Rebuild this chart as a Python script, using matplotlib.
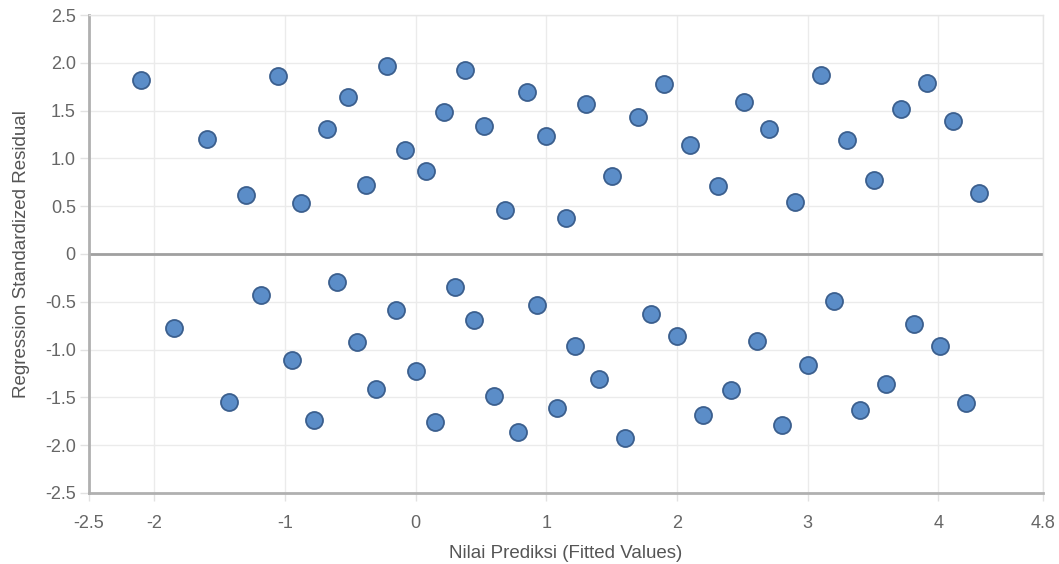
import numpy as np
import matplotlib.pyplot as plt

# residuals above zero
x_upper = [-2.10, -1.60, -1.30, -1.05, -0.88, -0.68, -0.52, -0.38, -0.22, -0.08,
           0.08, 0.22, 0.38, 0.52, 0.68, 0.85, 1.00, 1.15, 1.30, 1.50,
           1.70, 1.90, 2.10, 2.31, 2.51, 2.70, 2.90, 3.10, 3.30, 3.51,
           3.71, 3.91, 4.11, 4.31]
y_upper = [1.82, 1.20, 0.62, 1.86, 0.53, 1.31, 1.64, 0.72, 1.97, 1.09,
           0.87, 1.49, 1.92, 1.34, 0.46, 1.69, 1.23, 0.38, 1.57, 0.82,
           1.43, 1.78, 1.14, 0.71, 1.59, 1.31, 0.54, 1.87, 1.19, 0.77,
           1.52, 1.79, 1.39, 0.64]

# residuals below zero
x_lower = [-1.85, -1.43, -1.18, -0.95, -0.78, -0.60, -0.45, -0.30, -0.15, 0.00,
           0.15, 0.30, 0.45, 0.60, 0.78, 0.93, 1.08, 1.22, 1.40, 1.60,
           1.80, 2.00, 2.20, 2.41, 2.61, 2.80, 3.00, 3.20, 3.40, 3.60,
           3.81, 4.01, 4.21]
y_lower = [-0.77, -1.55, -0.43, -1.11, -1.74, -0.29, -0.92, -1.41, -0.59, -1.22,
           -1.76, -0.35, -0.69, -1.49, -1.86, -0.53, -1.61, -0.96, -1.31, -1.92,
           -0.63, -0.86, -1.68, -1.42, -0.91, -1.79, -1.16, -0.49, -1.63, -1.36,
           -0.73, -0.96, -1.56]

xticks = [-2.5, -2, -1, 0, 1, 2, 3, 4, 4.8]
xticklabels = ["-2.5", "-2", "-1", "0", "1", "2", "3", "4", "4.8"]
yticks = [-2.5, -2.0, -1.5, -1.0, -0.5, 0, 0.5, 1.0, 1.5, 2.0, 2.5]
yticklabels = ["-2.5", "-2.0", "-1.5", "-1.0", "-0.5", "0", "0.5", "1.0", "1.5", "2.0", "2.5"]

plt.rcParams['font.family'] = ['Liberation Sans', 'DejaVu Sans']

fig = plt.figure(figsize=(10.59, 5.64), dpi=100)
ax = fig.add_axes([0.0840, 0.1259, 0.9009, 0.8475])

x_all = x_upper + x_lower
y_all = y_upper + y_lower
ax.scatter(x_all, y_all, s=150, color='#5b8dc8', edgecolors='#3b5f8e',
           linewidths=1.3, zorder=3)

ax.axhline(0, color='#a0a0a0', linewidth=2, zorder=2)

ax.set_xlim(-2.5, 4.8)
ax.set_ylim(-2.5, 2.5)
ax.set_xticks(xticks)
ax.set_xticklabels(xticklabels)
ax.set_yticks(yticks)
ax.set_yticklabels(yticklabels)

ax.grid(True, color='#ebebeb', linewidth=1, zorder=0)
ax.set_axisbelow(True)

for side in ['left', 'bottom']:
    ax.spines[side].set_color('#b0b0b0')
    ax.spines[side].set_linewidth(2)
for side in ['top', 'right']:
    ax.spines[side].set_color('#e6e6e6')
    ax.spines[side].set_linewidth(1)

ax.tick_params(axis='both', labelsize=13, labelcolor='#666666',
               color='#e2e2e2', width=1)
ax.tick_params(axis='x', length=6, pad=9.5)
ax.tick_params(axis='y', length=6.5, pad=3)

ax.set_xlabel("Nilai Prediksi (Fitted Values)", fontsize=13.5, color='#555555', labelpad=10)
ax.set_ylabel("Regression Standardized Residual", fontsize=13.5, color='#555555', labelpad=10.5)

fig.savefig("out.png", dpi=100)
